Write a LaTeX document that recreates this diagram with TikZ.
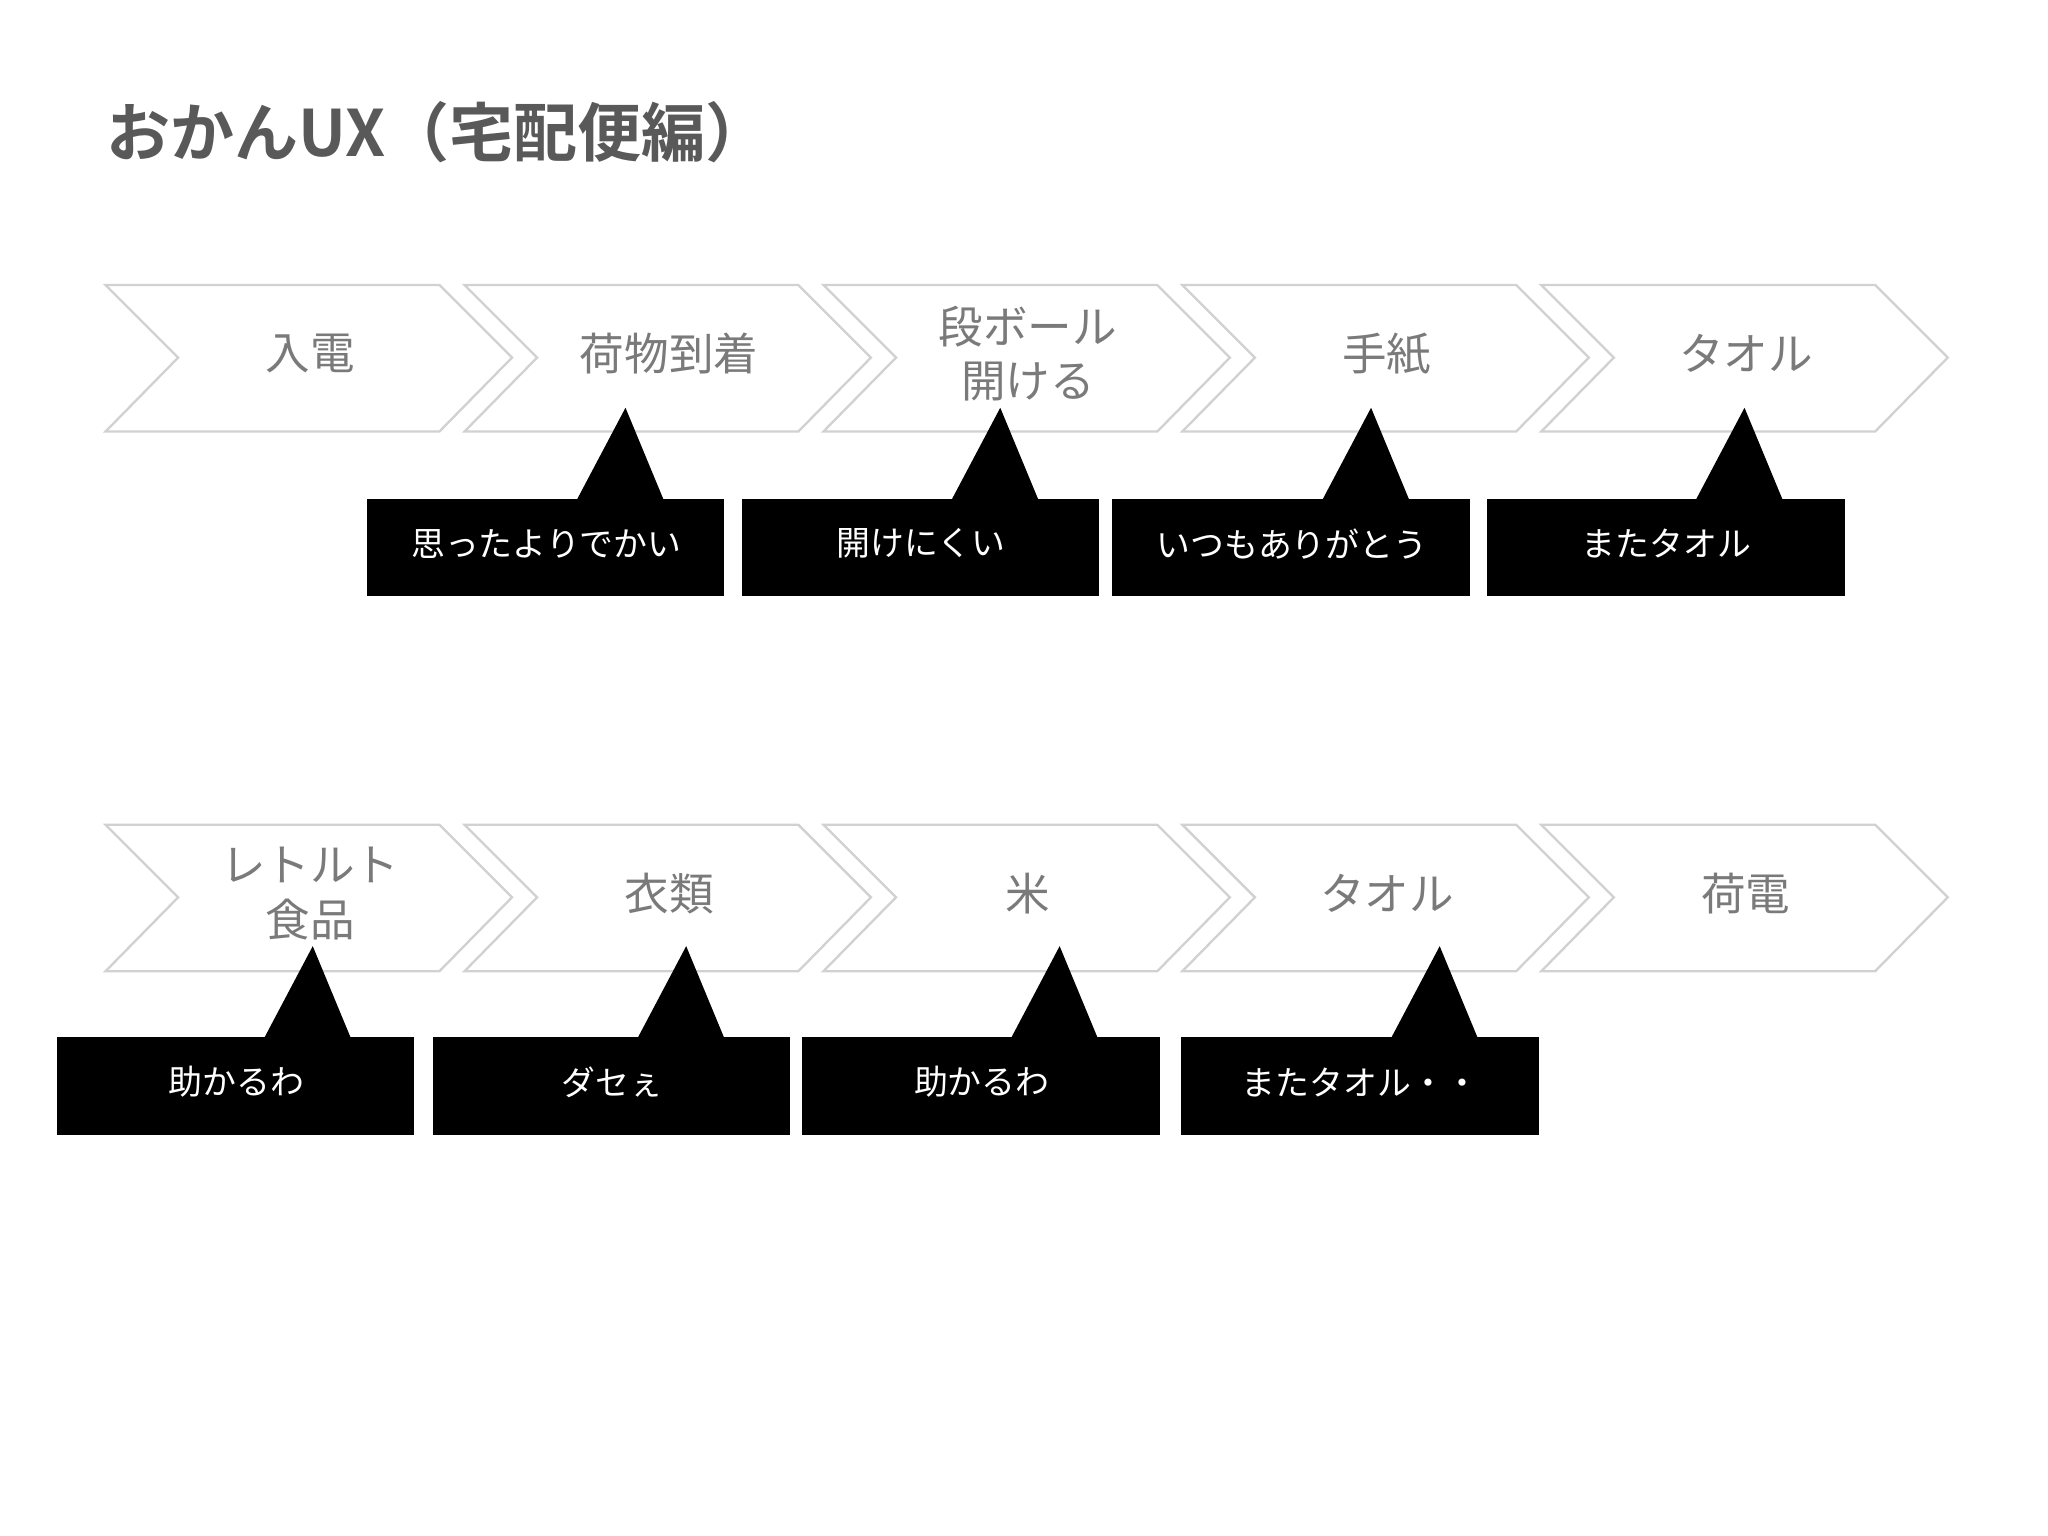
\documentclass[tikz,border=0pt]{standalone}
\usepackage{fontspec}
\setmainfont{Noto Sans CJK JP}
\newfontfamily\jpb{Noto Sans CJK JP Bold}
\begin{document}
\begin{tikzpicture}[x=0.01cm,y=-0.01cm,
  chev/.style={draw=black!18,line width=0.5pt,fill=white},
  ctext/.style={text=black!52,font=\fontsize{9.6pt}{11.8pt}\selectfont,align=center},
  bubble/.style={fill=black},
  btext/.style={text=white,font=\fontsize{7.3pt}{9pt}\selectfont}]
\useasboundingbox (0,0) rectangle (1552,1164);
\node[anchor=west,text=black!65,font=\jpb\fontsize{13.8pt}{16pt}\selectfont] (title) at (68,100) {おかんUX（宅配便編）};
% chevrons
\foreach \i/\t/\n in {0/入電/a1,1/荷物到着/a2,2/{段ボール\\開ける}/a3,3/手紙/a4,4/タオル/a5}{
  \pgfmathsetmacro\xo{80+272*\i}
  \draw[chev] (\xo,216) -- ++(253,0) -- ++(55,55) -- ++(-55,56) -- ++(-253,0) -- ++(55,-56) -- cycle;
  \node[ctext] (\n) at (\xo+155,268) {\t};
}
\foreach \i/\t/\n in {0/{レトルト\\食品}/b1,1/衣類/b2,2/米/b3,3/タオル/b4,4/荷電/b5}{
  \pgfmathsetmacro\xo{80+272*\i}
  \draw[chev] (\xo,625) -- ++(253,0) -- ++(55,55) -- ++(-55,56) -- ++(-253,0) -- ++(55,-56) -- cycle;
  \node[ctext] (\n) at (\xo+155,677) {\t};
}
% callouts
\foreach \xl/\ax/\yt/\t/\n in {278/474/378/思ったよりでかい/c1,562/758/378/開けにくい/c2,843/1039/378/いつもありがとう/c3,1127/1322/378/またタオル/c4,
  43/237/786/助かるわ/d1,328/520/786/ダセぇ/d2,608/803/786/助かるわ/d3,895/1091/786/またタオル・・/d4}{
  \fill[bubble] (\xl,\yt) rectangle ++(271,74);
  \fill[bubble] (\ax-37,\yt+1) -- (\ax,\yt-69) -- (\ax+29,\yt+1) -- cycle;
  \node[btext] (\n) at (\xl+136,\yt+34) {\t};
}
\end{tikzpicture}
\end{document}
